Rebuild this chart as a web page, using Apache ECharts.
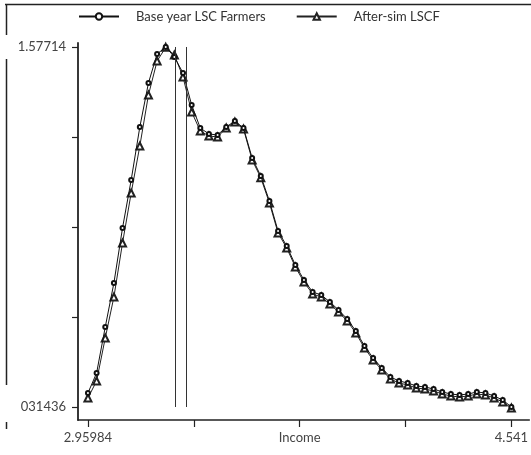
<!DOCTYPE html>
<html>
<head>
<meta charset="utf-8">
<script src="https://cdn.jsdelivr.net/npm/echarts@6/dist/echarts.min.js"></script>
<style>
  html, body { margin: 0; padding: 0; background: #fff; }
  #chart { width: 531px; height: 455px; }
</style>
</head>
<body>
<div id="chart"></div>
<script>
// Income grid (log income) shared by both density curves
var income = [
  2.9598, 2.9921, 3.0244, 3.0567, 3.0889, 3.1212, 3.1535, 3.1857, 3.2180, 3.2503,
  3.2825, 3.3148, 3.3471, 3.3793, 3.4116, 3.4439, 3.4761, 3.5084, 3.5407, 3.5729,
  3.6052, 3.6375, 3.6697, 3.7020, 3.7343, 3.7665, 3.7988, 3.8311, 3.8633, 3.8956,
  3.9279, 3.9601, 3.9924, 4.0247, 4.0570, 4.0892, 4.1215, 4.1538, 4.1860, 4.2183,
  4.2506, 4.2828, 4.3151, 4.3474, 4.3796, 4.4119, 4.4442, 4.4764, 4.5087, 4.5410
];

// Density, base year LSC farmers
var baseYear = [
  0.3635, 0.4336, 0.5950, 0.7493, 0.9422, 1.1106, 1.2965, 1.4509, 1.5526, 1.57714,
  1.5421, 1.4859, 1.3737, 1.2930, 1.2720, 1.2685, 1.2965, 1.3176, 1.2930, 1.1878,
  1.1246, 1.0370, 0.9317, 0.8791, 0.8125, 0.7598, 0.7177, 0.7072, 0.6827, 0.6546,
  0.6230, 0.5809, 0.5283, 0.4862, 0.4512, 0.4196, 0.4056, 0.3985, 0.3880, 0.3845,
  0.3775, 0.3670, 0.3600, 0.3565, 0.3600, 0.3670, 0.3635, 0.3529, 0.3389, 0.31436
];

// Density after the simulation
var afterSim = [
  0.3459, 0.4056, 0.5564, 0.7002, 0.8896, 1.0650, 1.2299, 1.4088, 1.5280, 1.5760,
  1.5491, 1.4719, 1.3492, 1.2825, 1.2650, 1.2615, 1.2930, 1.3141, 1.2895, 1.1808,
  1.1186, 1.0300, 0.9247, 0.8721, 0.8055, 0.7528, 0.7107, 0.7002, 0.6757, 0.6476,
  0.6160, 0.5739, 0.5213, 0.4792, 0.4442, 0.4126, 0.3986, 0.3915, 0.3810, 0.3775,
  0.3705, 0.3600, 0.3530, 0.3495, 0.3530, 0.3600, 0.3565, 0.3459, 0.3319, 0.3109
];

// Vertical reference lines (poverty cut-offs)
var cutoffs = [3.2872, 3.3282];

// Axis ticks and their printed labels
var xTicks = [2.95984, 3.35513, 3.75042, 4.14571, 4.541];
var xLabelValues = [2.95984, 3.75042, 4.541];
var xLabelTexts = ['2.95984', 'Income', '4.541'];
var yTicks = [0.31436, 0.630055, 0.94575, 1.261445, 1.57714];
var yLabelValues = [0.31436, 1.57714];
var yLabelTexts = ['031436', '1.57714'];

var seriesNames = ['Base year LSC Farmers', 'After-sim LSCF'];

function pickLabel(values, texts, v) {
  var best = 0;
  for (var i = 1; i < values.length; i++) {
    if (Math.abs(values[i] - v) < Math.abs(values[best] - v)) best = i;
  }
  return texts[best];
}

function pairs(xs, ys) {
  return xs.map(function (x, i) { return [x, ys[i]]; });
}

var FONT = 'Lato';
var chart = echarts.init(document.getElementById('chart'), null, { renderer: 'canvas' });

chart.setOption({
  animation: false,
  backgroundColor: '#ffffff',
  textStyle: { fontFamily: FONT },
  legend: {
    left: 78,
    top: 10,
    padding: 0,
    itemWidth: 40,
    itemHeight: 8,
    itemGap: 30,
    data: seriesNames,
    textStyle: { fontFamily: FONT, fontSize: 13, color: '#333', padding: [0, 0, 0, 12] }
  },
  grid: { left: 78, right: 0, top: 43, bottom: 35, containLabel: false },
  xAxis: {
    type: 'value',
    min: 2.92264,
    max: 4.60797,
    axisLine: { show: true, onZero: false, lineStyle: { color: '#222', width: 1.5 } },
    axisTick: { show: true, customValues: xTicks, length: 7, lineStyle: { color: '#222', width: 1.2 } },
    axisLabel: {
      customValues: xLabelValues,
      margin: 11,
      fontFamily: FONT,
      fontSize: 13,
      color: '#444',
      formatter: function (v) { return pickLabel(xLabelValues, xLabelTexts, v); }
    },
    splitLine: { show: false }
  },
  yAxis: {
    type: 'value',
    min: 0.26876,
    max: 1.59117,
    axisLine: { show: true, onZero: false, lineStyle: { color: '#222', width: 1.8 } },
    axisTick: { show: true, customValues: yTicks, length: 6, lineStyle: { color: '#222', width: 1.2 } },
    axisLabel: {
      customValues: yLabelValues,
      margin: 12,
      fontFamily: FONT,
      fontSize: 13,
      color: '#444',
      formatter: function (v) { return pickLabel(yLabelValues, yLabelTexts, v); }
    },
    splitLine: { show: false }
  },
  graphic: [
    // Frame edges along the top and left of the figure
    { type: 'line', shape: { x1: 5, y1: 4.5, x2: 531, y2: 4.5 }, style: { stroke: '#222', lineWidth: 1.5 } },
    { type: 'line', shape: { x1: 6.5, y1: 4, x2: 6.5, y2: 35 }, style: { stroke: '#222', lineWidth: 1.5 } },
    { type: 'line', shape: { x1: 6.5, y1: 59, x2: 6.5, y2: 385 }, style: { stroke: '#222', lineWidth: 1.5 } },
    { type: 'line', shape: { x1: 6.5, y1: 422, x2: 6.5, y2: 429 }, style: { stroke: '#222', lineWidth: 1.5 } }
  ],
  series: [
    {
      name: seriesNames[0],
      type: 'line',
      data: pairs(income, baseYear),
      symbol: 'emptyCircle',
      symbolSize: 4,
      showAllSymbol: true,
      lineStyle: { color: '#111', width: 1 },
      itemStyle: { color: '#111', borderColor: '#111', borderWidth: 1.5 },
      z: 3,
      markLine: {
        silent: true,
        symbol: ['none', 'none'],
        label: { show: false },
        lineStyle: { color: '#333', width: 1, type: 'solid' },
        data: cutoffs.map(function (c) {
          return [{ coord: [c, yLabelValues[0]] }, { coord: [c, yLabelValues[1]] }];
        })
      }
    },
    {
      name: seriesNames[1],
      type: 'line',
      data: pairs(income, afterSim),
      symbol: 'emptyTriangle',
      symbolSize: 7,
      showAllSymbol: true,
      lineStyle: { color: '#222', width: 1 },
      itemStyle: { color: '#222', borderColor: '#222', borderWidth: 1 },
      z: 2
    }
  ]
});
</script>
</body>
</html>
